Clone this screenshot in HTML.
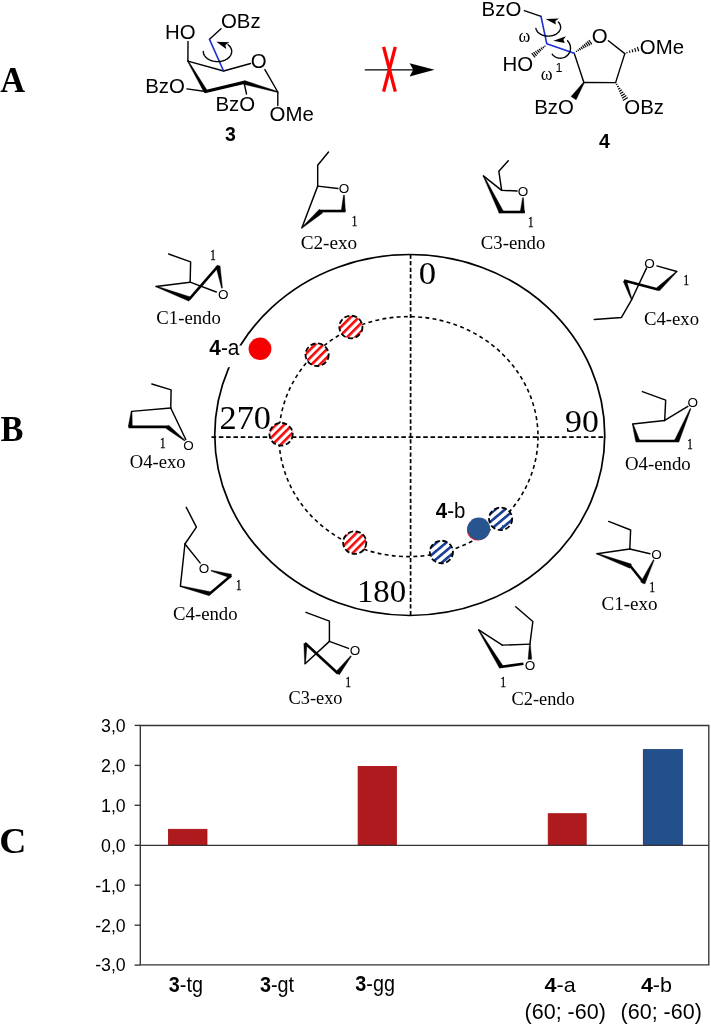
<!DOCTYPE html>
<html><head><meta charset="utf-8"><title>Figure</title>
<style>
html,body{margin:0;padding:0;background:#fff;}
svg{display:block;will-change:transform;}
</style></head>
<body>
<svg width="711" height="1024" viewBox="0 0 711 1024">
<rect width="711" height="1024" fill="#fff"/>
<text transform="translate(0.2,91.8) scale(0.97,1)" font-family='"Liberation Serif", "Times New Roman", serif' font-size="35.5" text-anchor="start" font-weight="bold" fill="#000" >A</text>
<text transform="translate(0.4,440.8) scale(0.97,1)" font-family='"Liberation Serif", "Times New Roman", serif' font-size="35.5" text-anchor="start" font-weight="bold" fill="#000" >B</text>
<text transform="translate(-0.7,853.0) scale(1.05,1)" font-family='"Liberation Serif", "Times New Roman", serif' font-size="35.8" text-anchor="start" font-weight="bold" fill="#000" >C</text>
<defs>
<pattern id="hr" patternUnits="userSpaceOnUse" width="5.8" height="5.8" patternTransform="rotate(-45) translate(0,1.2)"><rect width="5.8" height="5.8" fill="#fff"/><rect y="0" width="5.8" height="2.6" fill="#f40808"/></pattern>
<pattern id="hb" patternUnits="userSpaceOnUse" width="6.2" height="6.2" patternTransform="rotate(-40) translate(0,0.6)"><rect width="6.2" height="6.2" fill="#fff"/><rect y="0" width="6.2" height="2.6" fill="#163d97"/></pattern>
</defs>
<g id="polar">
<ellipse cx="409.75" cy="435" rx="195" ry="180.5" fill="none" stroke="#000" stroke-width="1.7"/>
<ellipse cx="408.5" cy="436.6" rx="129.5" ry="120" fill="none" stroke="#000" stroke-width="1.6" stroke-dasharray="3.9 3.3"/>
<path d="M410.6 254.5V615" stroke="#000" stroke-width="1.7" stroke-dasharray="4.2 2.4" fill="none"/>
<path d="M211.5 437.2H606" stroke="#000" stroke-width="1.7" stroke-dasharray="4.6 2.7" fill="none"/>
<rect x="205" y="345.6" width="39" height="21.6" fill="#fff"/>
<ellipse cx="350.9" cy="327.0" rx="11.6" ry="11.3" fill="url(#hr)" stroke="#000" stroke-width="1.8" stroke-dasharray="5.2 2.6"/>
<ellipse cx="317.1" cy="354.7" rx="11.6" ry="11.3" fill="url(#hr)" stroke="#000" stroke-width="1.8" stroke-dasharray="5.2 2.6"/>
<ellipse cx="281.1" cy="434.2" rx="11.6" ry="11.3" fill="url(#hr)" stroke="#000" stroke-width="1.8" stroke-dasharray="5.2 2.6"/>
<ellipse cx="354.7" cy="542.6" rx="11.6" ry="11.3" fill="url(#hr)" stroke="#000" stroke-width="1.8" stroke-dasharray="5.2 2.6"/>
<ellipse cx="441.4" cy="552.0" rx="11.6" ry="11.3" fill="url(#hb)" stroke="#000" stroke-width="1.8" stroke-dasharray="5.2 2.6"/>
<ellipse cx="500.6" cy="518.8" rx="11.6" ry="11.3" fill="url(#hb)" stroke="#000" stroke-width="1.8" stroke-dasharray="5.2 2.6"/>
<ellipse cx="260" cy="348.8" rx="11.4" ry="11.2" fill="#f40000"/>
<ellipse cx="477.7" cy="530.0" rx="10.8" ry="10.5" fill="#e02020"/>
<ellipse cx="478.8" cy="528.8" rx="11.4" ry="11.2" fill="#28548f"/>
<text transform="translate(418.7,284.2) scale(1.12,1)" font-family='"Liberation Serif", "Times New Roman", serif' font-size="31" text-anchor="start" font-weight="normal" fill="#000" >0</text>
<text transform="translate(565.0,432.0) scale(1.04,1)" font-family='"Liberation Serif", "Times New Roman", serif' font-size="32.5" text-anchor="start" font-weight="normal" fill="#000" >90</text>
<text transform="translate(356.9,602.2) scale(1.01,1)" font-family='"Liberation Serif", "Times New Roman", serif' font-size="32.5" text-anchor="start" font-weight="normal" fill="#000" >180</text>
<text transform="translate(219.5,429.0) scale(1.046,1)" font-family='"Liberation Serif", "Times New Roman", serif' font-size="32.8" text-anchor="start" font-weight="normal" fill="#000" >270</text>
<text transform="translate(239.4,354.9) scale(0.97,1)" font-family='"Liberation Sans", Arial, sans-serif' font-size="21.5" text-anchor="end" font-weight="normal" fill="#000" ><tspan font-weight="bold">4</tspan>-a</text>
<text transform="translate(435.8,517.7) scale(0.95,1)" font-family='"Liberation Sans", Arial, sans-serif' font-size="21.5" text-anchor="start" font-weight="normal" fill="#000" ><tspan font-weight="bold">4</tspan>-b</text>
</g>
<g>
<path d="M317.69 186.13L337.95 188.52" stroke="#000" stroke-width="1.45" stroke-linecap="round" fill="none"/>
<path d="M301.80 227.90L317.69 186.13" stroke="#000" stroke-width="1.45" stroke-linecap="round" fill="none"/>
<path d="M328.52 151.95L317.69 165.32L317.69 186.13" stroke="#000" stroke-width="1.45" stroke-linecap="round" stroke-linejoin="round" fill="none"/>
<path d="M319.80 211.03L345.54 211.03" stroke="#000" stroke-width="2.6" stroke-linecap="butt" fill="none"/>
<path d="M343.54 195.11L344.44 195.15L345.39 211.12L341.19 210.93Z" fill="#000" stroke="#000" stroke-width="0.4" stroke-linejoin="round"/>
<path d="M302.52 227.82L301.93 227.14L319.42 209.14L322.71 212.91Z" fill="#000" stroke="#000" stroke-width="0.4" stroke-linejoin="round"/>
<text transform="translate(343.99,192.99) scale(1.0,1)" font-family='"Liberation Sans", Arial, sans-serif' font-size="13.5" text-anchor="middle" font-weight="normal" fill="#000" >O</text>
<text transform="translate(354.54,226.08) scale(0.78,1)" font-family='"Liberation Serif", "Times New Roman", serif' font-size="14" text-anchor="middle" font-weight="normal" fill="#000" stroke="#000" stroke-width="0.35">1</text>
<text transform="translate(300.68,248.8) scale(0.985,1)" font-family='"Liberation Serif", "Times New Roman", serif' font-size="19.5" text-anchor="start" font-weight="normal" fill="#000" >C2-exo</text>
</g>
<g>
<path d="M501.65 190.35L517.12 190.91" stroke="#000" stroke-width="1.45" stroke-linecap="round" fill="none"/>
<path d="M483.36 175.86L501.65 190.35" stroke="#000" stroke-width="1.45" stroke-linecap="round" fill="none"/>
<path d="M508.26 160.82L498.83 171.22L501.65 190.35" stroke="#000" stroke-width="1.45" stroke-linecap="round" stroke-linejoin="round" fill="none"/>
<path d="M498.83 212.01L524.85 212.01" stroke="#000" stroke-width="2.6" stroke-linecap="butt" fill="none"/>
<path d="M522.57 197.64L523.47 197.69L524.42 212.11L520.22 211.91Z" fill="#000" stroke="#000" stroke-width="0.4" stroke-linejoin="round"/>
<path d="M483.24 176.34L484.05 175.95L503.29 211.00L499.16 213.02Z" fill="#000" stroke="#000" stroke-width="0.4" stroke-linejoin="round"/>
<text transform="translate(523.02,195.8) scale(1.0,1)" font-family='"Liberation Sans", Arial, sans-serif' font-size="13.5" text-anchor="middle" font-weight="normal" fill="#000" >O</text>
<text transform="translate(530.76,226.5) scale(0.78,1)" font-family='"Liberation Serif", "Times New Roman", serif' font-size="14" text-anchor="middle" font-weight="normal" fill="#000" stroke="#000" stroke-width="0.35">1</text>
<text transform="translate(480.83,248.52) scale(0.96,1)" font-family='"Liberation Serif", "Times New Roman", serif' font-size="19.5" text-anchor="start" font-weight="normal" fill="#000" >C3-endo</text>
</g>
<g>
<path d="M656.88 265.87L676.79 271.48" stroke="#000" stroke-width="1.45" stroke-linecap="round" fill="none"/>
<path d="M631.70 299.56L646.50 268.08" stroke="#000" stroke-width="1.45" stroke-linecap="round" fill="none"/>
<path d="M594.25 319.48L621.48 317.43L631.70 299.56" stroke="#000" stroke-width="1.45" stroke-linecap="round" stroke-linejoin="round" fill="none"/>
<path d="M658.92 289.69L624.04 280.50" stroke="#000" stroke-width="2.6" stroke-linecap="butt" fill="none"/>
<path d="M676.48 271.16L677.10 271.81L659.52 290.87L656.62 287.83Z" fill="#000" stroke="#000" stroke-width="0.4" stroke-linejoin="round"/>
<path d="M632.12 299.41L631.27 299.72L623.29 281.43L626.49 280.26Z" fill="#000" stroke="#000" stroke-width="0.4" stroke-linejoin="round"/>
<text transform="translate(649.56,268.37) scale(1.0,1)" font-family='"Liberation Sans", Arial, sans-serif' font-size="13.5" text-anchor="middle" font-weight="normal" fill="#000" >O</text>
<text transform="translate(686.15,285.1) scale(0.78,1)" font-family='"Liberation Serif", "Times New Roman", serif' font-size="14" text-anchor="middle" font-weight="normal" fill="#000" stroke="#000" stroke-width="0.35">1</text>
<text transform="translate(643.95,325.08) scale(0.96,1)" font-family='"Liberation Serif", "Times New Roman", serif' font-size="19.5" text-anchor="start" font-weight="normal" fill="#000" >C4-exo</text>
</g>
<g>
<path d="M664.69 420.43L687.84 406.36" stroke="#000" stroke-width="1.45" stroke-linecap="round" fill="none"/>
<path d="M664.69 420.43L632.73 423.98" stroke="#000" stroke-width="1.45" stroke-linecap="round" fill="none"/>
<path d="M642.39 391.59L665.68 400.11L664.69 420.43" stroke="#000" stroke-width="1.45" stroke-linecap="round" stroke-linejoin="round" fill="none"/>
<path d="M635.99 441.02L678.89 441.02" stroke="#000" stroke-width="2.6" stroke-linecap="butt" fill="none"/>
<path d="M690.13 408.46L690.95 408.81L678.88 441.92L674.64 440.12Z" fill="#000" stroke="#000" stroke-width="0.4" stroke-linejoin="round"/>
<path d="M632.30 424.10L633.16 423.85L639.71 440.43L635.68 441.61Z" fill="#000" stroke="#000" stroke-width="0.4" stroke-linejoin="round"/>
<text transform="translate(692.81,407.27) scale(1.0,1)" font-family='"Liberation Sans", Arial, sans-serif' font-size="13.5" text-anchor="middle" font-weight="normal" fill="#000" >O</text>
<text transform="translate(689.97,448.84) scale(0.78,1)" font-family='"Liberation Serif", "Times New Roman", serif' font-size="14" text-anchor="middle" font-weight="normal" fill="#000" stroke="#000" stroke-width="0.35">1</text>
<text transform="translate(624.91,469.51) scale(0.965,1)" font-family='"Liberation Serif", "Times New Roman", serif' font-size="19.5" text-anchor="start" font-weight="normal" fill="#000" >O4-endo</text>
</g>
<g>
<path d="M629.79 548.95L650.04 553.67" stroke="#000" stroke-width="1.45" stroke-linecap="round" fill="none"/>
<path d="M629.79 548.95L596.88 553.67" stroke="#000" stroke-width="1.45" stroke-linecap="round" fill="none"/>
<path d="M608.69 521.43L630.63 530.04L629.79 548.95" stroke="#000" stroke-width="1.45" stroke-linecap="round" stroke-linejoin="round" fill="none"/>
<path d="M629.96 565.49L643.80 582.70" stroke="#000" stroke-width="2.6" stroke-linecap="butt" fill="none"/>
<path d="M653.35 559.72L654.16 560.11L644.86 584.02L640.71 582.05Z" fill="#000" stroke="#000" stroke-width="0.4" stroke-linejoin="round"/>
<path d="M596.72 554.09L597.03 553.25L631.40 564.10L629.87 568.22Z" fill="#000" stroke="#000" stroke-width="0.4" stroke-linejoin="round"/>
<text transform="translate(656.46,558.56) scale(1.0,1)" font-family='"Liberation Sans", Arial, sans-serif' font-size="13.5" text-anchor="middle" font-weight="normal" fill="#000" >O</text>
<text transform="translate(652.24,592.49) scale(0.78,1)" font-family='"Liberation Serif", "Times New Roman", serif' font-size="14" text-anchor="middle" font-weight="normal" fill="#000" stroke="#000" stroke-width="0.35">1</text>
<text transform="translate(601.43,610.2) scale(0.98,1)" font-family='"Liberation Serif", "Times New Roman", serif' font-size="19.5" text-anchor="start" font-weight="normal" fill="#000" >C1-exo</text>
</g>
<g>
<path d="M529.90 644.14L502.33 645.13" stroke="#000" stroke-width="1.45" stroke-linecap="round" fill="none"/>
<path d="M502.33 645.13L478.70 629.97" stroke="#000" stroke-width="1.45" stroke-linecap="round" fill="none"/>
<path d="M515.72 606.74L532.85 621.50L529.90 644.14" stroke="#000" stroke-width="1.45" stroke-linecap="round" stroke-linejoin="round" fill="none"/>
<path d="M499.97 666.98L523.40 663.83" stroke="#000" stroke-width="2.6" stroke-linecap="butt" fill="none"/>
<path d="M529.45 644.14L530.35 644.14L531.70 659.30L528.10 659.30Z" fill="#000" stroke="#000" stroke-width="0.4" stroke-linejoin="round"/>
<path d="M478.32 630.20L479.09 629.73L503.14 666.09L499.55 668.27Z" fill="#000" stroke="#000" stroke-width="0.4" stroke-linejoin="round"/>
<text transform="translate(529.9,669.7) scale(1.0,1)" font-family='"Liberation Sans", Arial, sans-serif' font-size="13.5" text-anchor="middle" font-weight="normal" fill="#000" >O</text>
<text transform="translate(503.32,687.46) scale(0.78,1)" font-family='"Liberation Serif", "Times New Roman", serif' font-size="14" text-anchor="middle" font-weight="normal" fill="#000" stroke="#000" stroke-width="0.35">1</text>
<text transform="translate(511.58,704.7) scale(0.94,1)" font-family='"Liberation Serif", "Times New Roman", serif' font-size="19.5" text-anchor="start" font-weight="normal" fill="#000" >C2-endo</text>
</g>
<g>
<path d="M329.41 641.35L348.48 648.44" stroke="#000" stroke-width="1.45" stroke-linecap="round" fill="none"/>
<path d="M329.41 641.35L305.11 663.80" stroke="#000" stroke-width="1.45" stroke-linecap="round" fill="none"/>
<path d="M305.95 612.32L329.41 621.10L329.41 641.35" stroke="#000" stroke-width="1.45" stroke-linecap="round" stroke-linejoin="round" fill="none"/>
<path d="M304.94 643.04L338.02 673.42" stroke="#000" stroke-width="2.6" stroke-linecap="butt" fill="none"/>
<path d="M350.66 655.76L351.37 656.31L339.33 674.83L335.69 672.01Z" fill="#000" stroke="#000" stroke-width="0.4" stroke-linejoin="round"/>
<path d="M305.56 663.80L304.66 663.79L303.84 643.52L307.04 643.57Z" fill="#000" stroke="#000" stroke-width="0.4" stroke-linejoin="round"/>
<text transform="translate(354.89,655.18) scale(1.0,1)" font-family='"Liberation Sans", Arial, sans-serif' font-size="13.5" text-anchor="middle" font-weight="normal" fill="#000" >O</text>
<text transform="translate(348.14,686.58) scale(0.78,1)" font-family='"Liberation Serif", "Times New Roman", serif' font-size="14" text-anchor="middle" font-weight="normal" fill="#000" stroke="#000" stroke-width="0.35">1</text>
<text transform="translate(288.57,703.79) scale(0.94,1)" font-family='"Liberation Serif", "Times New Roman", serif' font-size="19.5" text-anchor="start" font-weight="normal" fill="#000" >C3-exo</text>
</g>
<g>
<path d="M184.94 544.01L200.13 562.91" stroke="#000" stroke-width="1.45" stroke-linecap="round" fill="none"/>
<path d="M184.94 544.01L180.38 586.20" stroke="#000" stroke-width="1.45" stroke-linecap="round" fill="none"/>
<path d="M186.29 507.38L196.41 527.13L184.94 544.01" stroke="#000" stroke-width="1.45" stroke-linecap="round" stroke-linejoin="round" fill="none"/>
<path d="M209.07 594.14L231.18 575.57" stroke="#000" stroke-width="2.6" stroke-linecap="butt" fill="none"/>
<path d="M210.98 571.11L211.21 570.24L231.54 574.15L230.49 578.01Z" fill="#000" stroke="#000" stroke-width="0.4" stroke-linejoin="round"/>
<path d="M180.27 586.64L180.49 585.77L210.44 591.76L209.39 595.83Z" fill="#000" stroke="#000" stroke-width="0.4" stroke-linejoin="round"/>
<text transform="translate(204.01,573.03) scale(1.0,1)" font-family='"Liberation Sans", Arial, sans-serif' font-size="13.5" text-anchor="middle" font-weight="normal" fill="#000" >O</text>
<text transform="translate(238.61,589.58) scale(0.78,1)" font-family='"Liberation Serif", "Times New Roman", serif' font-size="14" text-anchor="middle" font-weight="normal" fill="#000" stroke="#000" stroke-width="0.35">1</text>
<text transform="translate(173.12,619.61) scale(0.96,1)" font-family='"Liberation Serif", "Times New Roman", serif' font-size="19.5" text-anchor="start" font-weight="normal" fill="#000" >C4-endo</text>
</g>
<g>
<path d="M170.76 407.97L185.78 439.54" stroke="#000" stroke-width="1.45" stroke-linecap="round" fill="none"/>
<path d="M170.76 407.97L131.60 411.35" stroke="#000" stroke-width="1.45" stroke-linecap="round" fill="none"/>
<path d="M151.86 384.01L171.10 389.92L170.76 407.97" stroke="#000" stroke-width="1.45" stroke-linecap="round" stroke-linejoin="round" fill="none"/>
<path d="M128.57 426.88L168.23 426.88" stroke="#000" stroke-width="2.6" stroke-linecap="butt" fill="none"/>
<path d="M185.05 440.19L184.49 440.90L166.09 428.53L168.68 425.23Z" fill="#000" stroke="#000" stroke-width="0.4" stroke-linejoin="round"/>
<path d="M131.16 411.31L132.05 411.39L132.25 427.05L128.26 426.70Z" fill="#000" stroke="#000" stroke-width="0.4" stroke-linejoin="round"/>
<text transform="translate(188.48,449.65) scale(1.0,1)" font-family='"Liberation Sans", Arial, sans-serif' font-size="13.5" text-anchor="middle" font-weight="normal" fill="#000" >O</text>
<text transform="translate(162.66,447.64) scale(0.78,1)" font-family='"Liberation Serif", "Times New Roman", serif' font-size="14" text-anchor="middle" font-weight="normal" fill="#000" stroke="#000" stroke-width="0.35">1</text>
<text transform="translate(129.75,467.55) scale(0.955,1)" font-family='"Liberation Serif", "Times New Roman", serif' font-size="19.5" text-anchor="start" font-weight="normal" fill="#000" >O4-exo</text>
</g>
<g>
<path d="M190.13 282.19L216.29 291.98" stroke="#000" stroke-width="1.45" stroke-linecap="round" fill="none"/>
<path d="M190.13 282.19L156.03 286.41" stroke="#000" stroke-width="1.45" stroke-linecap="round" fill="none"/>
<path d="M168.69 254.01L190.63 261.94L190.13 282.19" stroke="#000" stroke-width="1.45" stroke-linecap="round" stroke-linejoin="round" fill="none"/>
<path d="M189.11 299.41L218.48 265.65" stroke="#000" stroke-width="2.6" stroke-linecap="butt" fill="none"/>
<path d="M222.47 288.02L221.58 288.18L215.91 266.54L220.04 265.78Z" fill="#000" stroke="#000" stroke-width="0.4" stroke-linejoin="round"/>
<path d="M155.88 286.83L156.19 285.99L190.56 297.01L189.02 301.13Z" fill="#000" stroke="#000" stroke-width="0.4" stroke-linejoin="round"/>
<text transform="translate(223.21,299.23) scale(1.0,1)" font-family='"Liberation Sans", Arial, sans-serif' font-size="13.5" text-anchor="middle" font-weight="normal" fill="#000" >O</text>
<text transform="translate(212.91,260.25) scale(0.78,1)" font-family='"Liberation Serif", "Times New Roman", serif' font-size="14" text-anchor="middle" font-weight="normal" fill="#000" stroke="#000" stroke-width="0.35">1</text>
<text transform="translate(156.37,324.38) scale(0.96,1)" font-family='"Liberation Serif", "Times New Roman", serif' font-size="19.5" text-anchor="start" font-weight="normal" fill="#000" >C1-endo</text>
</g>
<g id="mol3">
<path d="M188.00 41.40L187.90 61.10" stroke="#000" stroke-width="1.4" stroke-linecap="round" fill="none"/>
<path d="M187.90 61.10L223.60 71.00" stroke="#000" stroke-width="1.4" stroke-linecap="round" fill="none"/>
<path d="M223.60 71.00L250.60 63.50" stroke="#000" stroke-width="1.4" stroke-linecap="round" fill="none"/>
<path d="M264.90 69.60L277.80 92.00" stroke="#000" stroke-width="1.4" stroke-linecap="round" fill="none"/>
<path d="M205.70 91.50L186.90 88.90" stroke="#000" stroke-width="1.4" stroke-linecap="round" fill="none"/>
<path d="M244.00 82.40L246.50 94.00" stroke="#000" stroke-width="1.4" stroke-linecap="round" fill="none"/>
<path d="M277.80 92.00L277.80 105.60" stroke="#000" stroke-width="1.4" stroke-linecap="round" fill="none"/>
<path d="M209.50 39.30L221.00 28.80" stroke="#000" stroke-width="1.4" stroke-linecap="round" fill="none"/>
<path d="M187.47 61.35L188.33 60.85L207.25 90.59L204.15 92.41Z" fill="#000" stroke="#000" stroke-width="0.4" stroke-linejoin="round"/>
<path d="M277.94 91.52L277.66 92.48L243.48 84.23L244.52 80.57Z" fill="#000" stroke="#000" stroke-width="0.4" stroke-linejoin="round"/>
<path d="M205.70 91.50L244.00 82.40" stroke="#000" stroke-width="3.3" stroke-linecap="round" fill="none"/>
<path d="M223.60 71.00L209.50 39.30" stroke="#1a2fd0" stroke-width="1.5999999999999999" stroke-linecap="round" fill="none"/>
<text transform="translate(165.0,38.8) scale(1.0,1)" font-family='"Liberation Sans", Arial, sans-serif' font-size="20.4" text-anchor="start" font-weight="normal" fill="#000" >HO</text>
<text transform="translate(221.0,27.9) scale(1.0,1)" font-family='"Liberation Sans", Arial, sans-serif' font-size="20.4" text-anchor="start" font-weight="normal" fill="#000" >OBz</text>
<text transform="translate(145.2,93.3) scale(1.0,1)" font-family='"Liberation Sans", Arial, sans-serif' font-size="20.4" text-anchor="start" font-weight="normal" fill="#000" >BzO</text>
<text transform="translate(215.4,110.5) scale(1.0,1)" font-family='"Liberation Sans", Arial, sans-serif' font-size="20.4" text-anchor="start" font-weight="normal" fill="#000" >BzO</text>
<text transform="translate(269.6,121.3) scale(1.0,1)" font-family='"Liberation Sans", Arial, sans-serif' font-size="20.4" text-anchor="start" font-weight="normal" fill="#000" >OMe</text>
<text transform="translate(250.7,68.3) scale(1.0,1)" font-family='"Liberation Sans", Arial, sans-serif' font-size="20.4" text-anchor="start" font-weight="normal" fill="#000" >O</text>
<text transform="translate(230.4,141.0) scale(1.0,1)" font-family='"Liberation Sans", Arial, sans-serif' font-size="19.5" text-anchor="middle" font-weight="bold" fill="#000" >3</text>
<path d="M203.30 51.50L203.37 52.48L203.57 53.44L203.90 54.39L204.35 55.32L204.93 56.20L205.63 57.05L206.44 57.84L207.35 58.57L208.36 59.23L209.46 59.82L210.63 60.34L211.86 60.77L213.15 61.11L214.47 61.37L215.83 61.53L217.20 61.60L218.58 61.57L219.94 61.45L221.28 61.24L222.59 60.93L223.85 60.53L225.05 60.06L226.17 59.50L227.22 58.86L228.18 58.16L229.03 57.39L229.78 56.57L230.41 55.70L230.92 54.80L231.31 53.86L231.56 52.90L231.69 51.92L231.68 50.95L231.54 49.97L231.26 49.01L230.86 48.08L230.33 47.18L229.68 46.31L228.92 45.50L228.05 44.74" stroke="#000" stroke-width="1.4" fill="none" stroke-linecap="round"/>
<path d="M216.30 41.80L229.40 42.20L225.40 45.00L226.20 49.00Z" fill="#000"/>
</g>
<g id="arrowX">
<path d="M364.80 69.80L414.00 69.80" stroke="#000" stroke-width="1.3" stroke-linecap="butt" fill="none"/>
<path d="M434.6 69.8L409.6 63.2L413.2 69.8L409.6 76.4Z" fill="#000"/>
<path d="M383.60 46.90L395.30 91.60" stroke="#ff0000" stroke-width="3.3" stroke-linecap="butt" fill="none"/>
<path d="M395.30 46.90L383.60 91.60" stroke="#ff0000" stroke-width="3.3" stroke-linecap="butt" fill="none"/>
</g>
<g id="mol4">
<path d="M524.30 10.70L541.00 16.30" stroke="#000" stroke-width="1.4" stroke-linecap="round" fill="none"/>
<path d="M608.40 40.80L624.80 53.60" stroke="#000" stroke-width="1.4" stroke-linecap="round" fill="none"/>
<path d="M624.80 53.60L615.60 82.60" stroke="#000" stroke-width="1.4" stroke-linecap="round" fill="none"/>
<path d="M615.60 82.60L583.90 82.50" stroke="#000" stroke-width="1.4" stroke-linecap="round" fill="none"/>
<path d="M583.90 82.50L574.20 53.30" stroke="#000" stroke-width="1.4" stroke-linecap="round" fill="none"/>
<path d="M541.00 16.30L546.80 43.80L574.20 53.30" stroke="#1a2fd0" stroke-width="1.5999999999999999" stroke-linecap="round" stroke-linejoin="round" fill="none"/>
<path d="M544.57 45.55L545.38 46.56" stroke="#000" stroke-width="1.15" fill="none"/>
<path d="M542.75 46.64L543.90 48.10" stroke="#000" stroke-width="1.15" fill="none"/>
<path d="M540.92 47.73L542.43 49.64" stroke="#000" stroke-width="1.15" fill="none"/>
<path d="M539.09 48.81L540.96 51.17" stroke="#000" stroke-width="1.15" fill="none"/>
<path d="M537.26 49.90L539.49 52.71" stroke="#000" stroke-width="1.15" fill="none"/>
<path d="M535.43 50.99L538.02 54.25" stroke="#000" stroke-width="1.15" fill="none"/>
<path d="M533.60 52.08L536.55 55.79" stroke="#000" stroke-width="1.15" fill="none"/>
<path d="M531.77 53.16L535.08 57.32" stroke="#000" stroke-width="1.15" fill="none"/>
<path d="M576.81 51.94L576.12 50.90" stroke="#000" stroke-width="1.15" fill="none"/>
<path d="M578.69 51.00L577.71 49.53" stroke="#000" stroke-width="1.15" fill="none"/>
<path d="M580.57 50.06L579.30 48.16" stroke="#000" stroke-width="1.15" fill="none"/>
<path d="M582.44 49.12L580.89 46.80" stroke="#000" stroke-width="1.15" fill="none"/>
<path d="M584.32 48.17L582.48 45.43" stroke="#000" stroke-width="1.15" fill="none"/>
<path d="M586.19 47.23L584.08 44.06" stroke="#000" stroke-width="1.15" fill="none"/>
<path d="M588.07 46.29L585.67 42.69" stroke="#000" stroke-width="1.15" fill="none"/>
<path d="M589.94 45.34L587.26 41.32" stroke="#000" stroke-width="1.15" fill="none"/>
<path d="M591.82 44.40L588.85 39.95" stroke="#000" stroke-width="1.15" fill="none"/>
<path d="M627.19 53.23L626.77 51.89" stroke="#000" stroke-width="1.15" fill="none"/>
<path d="M630.07 52.73L629.41 50.63" stroke="#000" stroke-width="1.15" fill="none"/>
<path d="M632.96 52.23L632.04 49.37" stroke="#000" stroke-width="1.15" fill="none"/>
<path d="M635.84 51.73L634.68 48.11" stroke="#000" stroke-width="1.15" fill="none"/>
<path d="M638.72 51.23L637.32 46.85" stroke="#000" stroke-width="1.15" fill="none"/>
<path d="M616.16 84.77L617.28 84.10" stroke="#000" stroke-width="1.15" fill="none"/>
<path d="M617.12 87.01L618.79 86.02" stroke="#000" stroke-width="1.15" fill="none"/>
<path d="M618.09 89.24L620.29 87.93" stroke="#000" stroke-width="1.15" fill="none"/>
<path d="M619.06 91.48L621.80 89.85" stroke="#000" stroke-width="1.15" fill="none"/>
<path d="M620.03 93.71L623.31 91.76" stroke="#000" stroke-width="1.15" fill="none"/>
<path d="M621.00 95.95L624.81 93.68" stroke="#000" stroke-width="1.15" fill="none"/>
<path d="M621.97 98.18L626.32 95.59" stroke="#000" stroke-width="1.15" fill="none"/>
<path d="M622.94 100.42L627.82 97.51" stroke="#000" stroke-width="1.15" fill="none"/>
<path d="M583.48 82.23L584.32 82.77L576.11 99.85L571.09 96.55Z" fill="#000" stroke="#000" stroke-width="0.4" stroke-linejoin="round"/>
<text transform="translate(481.6,15.8) scale(1.0,1)" font-family='"Liberation Sans", Arial, sans-serif' font-size="20.4" text-anchor="start" font-weight="normal" fill="#000" >BzO</text>
<text transform="translate(502.4,71.2) scale(1.0,1)" font-family='"Liberation Sans", Arial, sans-serif' font-size="20.4" text-anchor="start" font-weight="normal" fill="#000" >HO</text>
<text transform="translate(591.8,43.3) scale(1.0,1)" font-family='"Liberation Sans", Arial, sans-serif' font-size="20.4" text-anchor="start" font-weight="normal" fill="#000" >O</text>
<text transform="translate(639.8,54.0) scale(1.0,1)" font-family='"Liberation Sans", Arial, sans-serif' font-size="20.4" text-anchor="start" font-weight="normal" fill="#000" >OMe</text>
<text transform="translate(624.3,113.9) scale(1.0,1)" font-family='"Liberation Sans", Arial, sans-serif' font-size="20.4" text-anchor="start" font-weight="normal" fill="#000" >OBz</text>
<text transform="translate(534.2,113.7) scale(1.0,1)" font-family='"Liberation Sans", Arial, sans-serif' font-size="20.4" text-anchor="start" font-weight="normal" fill="#000" >BzO</text>
<text transform="translate(604.5,148.1) scale(1.0,1)" font-family='"Liberation Sans", Arial, sans-serif' font-size="19.5" text-anchor="middle" font-weight="bold" fill="#000" >4</text>
<text transform="translate(518.6,41.8) scale(1.0,1)" font-family='"Liberation Serif", "Times New Roman", serif' font-size="18" text-anchor="start" font-weight="normal" fill="#000" >ω</text>
<text transform="translate(540.8,80.4) scale(1.0,1)" font-family='"Liberation Serif", "Times New Roman", serif' font-size="18" text-anchor="start" font-weight="normal" fill="#000" >ω</text>
<text transform="translate(558.9,72.0) scale(1.0,1)" font-family='"Liberation Sans", Arial, sans-serif' font-size="12.5" text-anchor="middle" font-weight="normal" fill="#000" >1</text>
<path d="M535.92 28.44L536.13 29.23L536.43 30.00L536.83 30.75L537.32 31.47L537.90 32.16L538.57 32.81L539.31 33.41L540.13 33.96L541.01 34.45L541.95 34.89L542.94 35.26L543.98 35.57L545.05 35.81L546.14 35.98L547.25 36.07L548.37 36.10L549.49 36.05L550.60 35.93L551.69 35.74L552.74 35.48L553.77 35.15L554.74 34.76L555.67 34.31L556.53 33.79L557.32 33.23L558.04 32.61L558.68 31.95L559.24 31.25L559.70 30.52L560.07 29.76L560.35 28.99L560.52 28.19L560.60 27.39L560.57 26.59L560.44 25.79L560.22 25.00L559.89 24.23L559.47 23.49L558.96 22.77L558.36 22.10" stroke="#000" stroke-width="1.4" fill="none" stroke-linecap="round"/>
<path d="M545.60 19.00L559.00 18.60L555.40 21.00L555.80 24.60Z" fill="#000"/>
<path d="M552.26 54.28L552.80 54.91L553.39 55.50L554.02 56.04L554.70 56.53L555.41 56.95L556.16 57.32L556.93 57.63L557.73 57.87L558.54 58.05L559.37 58.16L560.20 58.20L561.03 58.17L561.86 58.08L562.67 57.92L563.47 57.69L564.25 57.40L565.01 57.05L565.73 56.64L566.41 56.16L567.06 55.64L567.66 55.06L568.21 54.44L568.71 53.77L569.15 53.07L569.53 52.33L569.86 51.56L570.12 50.77L570.31 49.96L570.44 49.14L570.50 48.31L570.49 47.48L570.41 46.65L570.27 45.83L570.06 45.03L569.78 44.24L569.44 43.48L569.05 42.75L568.59 42.06L568.08 41.40L567.51 40.79" stroke="#000" stroke-width="1.4" fill="none" stroke-linecap="round"/>
<path d="M553.40 40.80L566.00 36.30L563.40 39.80L564.80 43.00Z" fill="#000"/>
</g>
<g id="chart">
<rect x="642.9" y="749.6" width="3" height="95" fill="#b8251f"/>
<rect x="168.4" y="829.3" width="38.6" height="16.0" fill="#ae1a1d" stroke="#a90d11" stroke-width="0.8"/>
<rect x="358.1" y="766.4" width="38.3" height="78.9" fill="#ae1a1d" stroke="#a90d11" stroke-width="0.8"/>
<rect x="548.2" y="813.7" width="38.0" height="31.6" fill="#ae1a1d" stroke="#a90d11" stroke-width="0.8"/>
<rect x="643.7" y="749.4" width="38.8" height="95.9" fill="#234f8b" stroke="#1f4782" stroke-width="0.8"/>
<path d="M140.3 725.5H708.8V964.8H140.3Z" fill="none" stroke="#383335" stroke-width="1.35"/>
<path d="M140.3 845.3H708.8" stroke="#383335" stroke-width="1.35"/>
<path d="M134.6 725.4H140.3" stroke="#383335" stroke-width="1.35"/>
<text transform="translate(125.7,731.7499999999999) scale(0.97,1)" font-family='"Liberation Sans", Arial, sans-serif' font-size="18.3" text-anchor="end" font-weight="normal" fill="#000" >3,0</text>
<path d="M134.6 765.4H140.3" stroke="#383335" stroke-width="1.35"/>
<text transform="translate(125.7,771.6999999999999) scale(0.97,1)" font-family='"Liberation Sans", Arial, sans-serif' font-size="18.3" text-anchor="end" font-weight="normal" fill="#000" >2,0</text>
<path d="M134.6 805.3H140.3" stroke="#383335" stroke-width="1.35"/>
<text transform="translate(125.7,811.6499999999999) scale(0.97,1)" font-family='"Liberation Sans", Arial, sans-serif' font-size="18.3" text-anchor="end" font-weight="normal" fill="#000" >1,0</text>
<path d="M134.6 845.3H140.3" stroke="#383335" stroke-width="1.35"/>
<text transform="translate(125.7,851.5999999999999) scale(0.97,1)" font-family='"Liberation Sans", Arial, sans-serif' font-size="18.3" text-anchor="end" font-weight="normal" fill="#000" >0,0</text>
<path d="M134.6 885.2H140.3" stroke="#383335" stroke-width="1.35"/>
<text transform="translate(125.7,891.55) scale(0.97,1)" font-family='"Liberation Sans", Arial, sans-serif' font-size="18.3" text-anchor="end" font-weight="normal" fill="#000" >-1,0</text>
<path d="M134.6 925.2H140.3" stroke="#383335" stroke-width="1.35"/>
<text transform="translate(125.7,931.4999999999999) scale(0.97,1)" font-family='"Liberation Sans", Arial, sans-serif' font-size="18.3" text-anchor="end" font-weight="normal" fill="#000" >-2,0</text>
<path d="M134.6 965.1H140.3" stroke="#383335" stroke-width="1.35"/>
<text transform="translate(125.7,971.4499999999999) scale(0.97,1)" font-family='"Liberation Sans", Arial, sans-serif' font-size="18.3" text-anchor="end" font-weight="normal" fill="#000" >-3,0</text>
<text transform="translate(168.8,992.0) scale(0.9,1)" font-family='"Liberation Sans", Arial, sans-serif' font-size="22" text-anchor="start" font-weight="normal" fill="#000" ><tspan font-weight="bold">3</tspan>-tg</text>
<text transform="translate(259.9,992.0) scale(0.9,1)" font-family='"Liberation Sans", Arial, sans-serif' font-size="22" text-anchor="start" font-weight="normal" fill="#000" ><tspan font-weight="bold">3</tspan>-gt</text>
<text transform="translate(355.3,990.6) scale(0.9,1)" font-family='"Liberation Sans", Arial, sans-serif' font-size="22" text-anchor="start" font-weight="normal" fill="#000" ><tspan font-weight="bold">3</tspan>-gg</text>
<text transform="translate(544.6,991.7) scale(1.03,1)" font-family='"Liberation Sans", Arial, sans-serif' font-size="20.9" text-anchor="start" font-weight="normal" fill="#000" ><tspan font-weight="bold">4</tspan>-a</text>
<text transform="translate(640.9,991.7) scale(1.03,1)" font-family='"Liberation Sans", Arial, sans-serif' font-size="20.9" text-anchor="start" font-weight="normal" fill="#000" ><tspan font-weight="bold">4</tspan>-b</text>
<text transform="translate(524.6,1019.0) scale(1.0,1)" font-family='"Liberation Sans", Arial, sans-serif' font-size="21.5" text-anchor="start" font-weight="normal" fill="#000" >(60; -60)</text>
<text transform="translate(620.6,1019.0) scale(1.0,1)" font-family='"Liberation Sans", Arial, sans-serif' font-size="21.5" text-anchor="start" font-weight="normal" fill="#000" >(60; -60)</text>
</g>
</svg>
</body></html>
